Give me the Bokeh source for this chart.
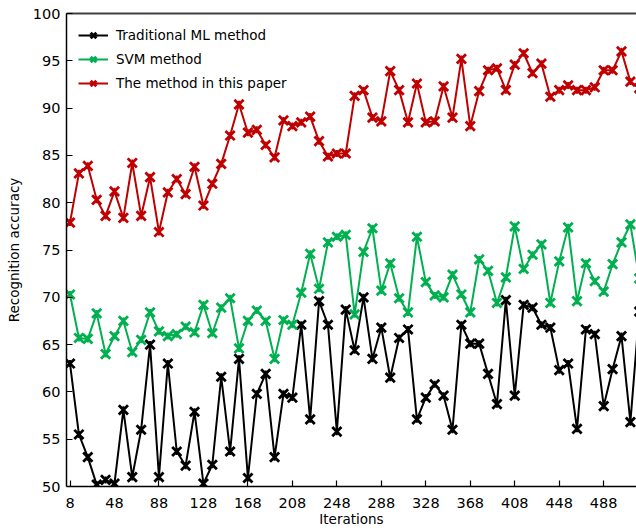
import math
from bokeh.plotting import figure
from bokeh.models import Range1d, LinearAxis, FixedTicker, Legend, LegendItem
from bokeh.embed import file_html
from bokeh.resources import INLINE

iterations = list(range(8, 521, 8))

traditional = [63.0, 55.5, 53.1, 50.2, 50.7, 50.3, 58.1, 51.0, 56.0, 65.0, 51.0, 63.0, 53.7, 52.2, 57.9, 50.3, 52.3, 61.6, 53.7, 63.5, 50.9, 59.8,
               61.9, 53.1, 59.8, 59.4, 67.1, 57.1, 69.6, 67.1, 55.8, 68.7, 64.4, 70.0, 63.5, 66.8, 61.5, 65.7, 66.6, 57.1, 59.4, 60.8, 59.6,
               56.0, 67.1, 65.1, 65.1, 61.9, 58.7, 69.7, 59.6, 69.2, 68.9, 67.1, 66.8, 62.3, 63.0, 56.1, 66.6, 66.1, 58.5, 62.4, 65.9, 56.8, 68.5]

svm = [70.3, 65.7, 65.6, 68.3, 64.0, 65.9, 67.5, 64.2, 65.5, 68.4, 66.4, 65.9, 66.1, 66.9, 66.3, 69.2, 66.2, 68.9, 69.9, 64.6, 67.5, 68.6,
       67.5, 63.5, 67.6, 67.1, 70.5, 74.6, 70.9, 75.8, 76.4, 76.6, 68.2, 74.8, 77.3, 70.7, 73.6, 69.9, 68.4, 76.4, 71.6, 70.2, 70.0,
       72.4, 70.3, 68.4, 74.0, 72.8, 69.4, 72.1, 77.5, 73.0, 74.5, 75.6, 69.4, 73.8, 77.4, 69.6, 73.6, 71.7, 70.6, 73.5, 75.8, 77.7, 72.0]

proposed = [77.9, 83.1, 83.9, 80.3, 78.6, 81.2, 78.4, 84.2, 78.6, 82.7, 76.9, 81.1, 82.5, 80.9, 83.8, 79.7, 82.0, 84.1, 87.1, 90.4, 87.4, 87.7,
            86.1, 84.8, 88.7, 88.1, 88.5, 89.1, 86.5, 84.9, 85.2, 85.2, 91.3, 91.9, 89.0, 88.6, 93.9, 91.9, 88.5, 92.6, 88.5, 88.6, 92.3,
            89.0, 95.2, 88.1, 91.8, 94.0, 94.2, 91.9, 94.6, 95.8, 93.7, 94.7, 91.2, 91.9, 92.4, 91.9, 91.9, 92.2, 94.0, 94.0, 96.0, 92.8, 92.1]

series_names = ["Traditional ML method", "SVM method", "The method in this paper"]
series_colors = ["#000000", "#00B050", "#C00000"]
x_ticks = [8, 48, 88, 128, 168, 208, 248, 288, 328, 368, 408, 448, 488]
y_ticks = [50, 55, 60, 65, 70, 75, 80, 85, 90, 95, 100]

FONT = "DejaVu Sans"

p = figure(width=636, height=529, output_backend="svg", toolbar_location=None,
           x_range=Range1d(4.85, 517.5), y_range=Range1d(50, 100),
           min_border_left=66, min_border_right=0, min_border_top=13, min_border_bottom=40,
           x_axis_label="Iterations", y_axis_label="Recognition accuracy")
p.outline_line_color = None
p.grid.visible = False
p.background_fill_color = "white"
p.border_fill_color = "white"

for ax, ticks in ((p.xaxis[0], x_ticks), (p.yaxis[0], y_ticks)):
    ax.ticker = FixedTicker(ticks=ticks)
    ax.major_tick_in = 6
    ax.major_tick_out = 0
    ax.minor_tick_line_color = None
    ax.axis_line_color = "#000000"
    ax.axis_line_width = 1.5
    ax.major_tick_line_color = "#000000"
    ax.major_tick_line_width = 1.2
    ax.major_label_text_font = FONT
    ax.major_label_text_font_size = "14.5px"
    ax.major_label_text_color = "#000000"
    ax.axis_label_text_font = FONT
    ax.axis_label_text_font_size = "13.5px"
    ax.axis_label_text_font_style = "normal"
    ax.axis_label_text_color = "#000000"
p.xaxis[0].major_label_standoff = 11
p.xaxis[0].axis_label_standoff = 0
p.yaxis[0].major_label_standoff = 6
p.yaxis[0].axis_label_standoff = 8

top = LinearAxis(ticker=FixedTicker(ticks=[]), axis_line_color="#404040", axis_line_width=2,
                 major_tick_line_color=None, minor_tick_line_color=None,
                 major_label_text_font_size="0px")
p.add_layout(top, "above")

items = []
for vals, name, col in zip([traditional, svm, proposed], series_names, series_colors):
    ln = p.line(iterations, vals, line_color=col, line_width=2)
    sx = p.scatter(iterations, vals, marker="x", size=13, line_color=col, line_width=2.8)
    sv = p.scatter(iterations, vals, marker="dash", angle=math.pi / 2, size=7, line_color=col, line_width=2)
    items.append(LegendItem(label=name, renderers=[ln, sx, sv]))

legend = Legend(items=items, location="top_left", margin=12, padding=0,
                spacing=4, glyph_width=30, glyph_height=20, label_height=20,
                label_standoff=8, label_text_font=FONT, label_text_font_size="13.5px",
                label_text_color="#000000", border_line_color=None, background_fill_alpha=0)
p.add_layout(legend)

open("out.html", "w").write(file_html(p, INLINE))
